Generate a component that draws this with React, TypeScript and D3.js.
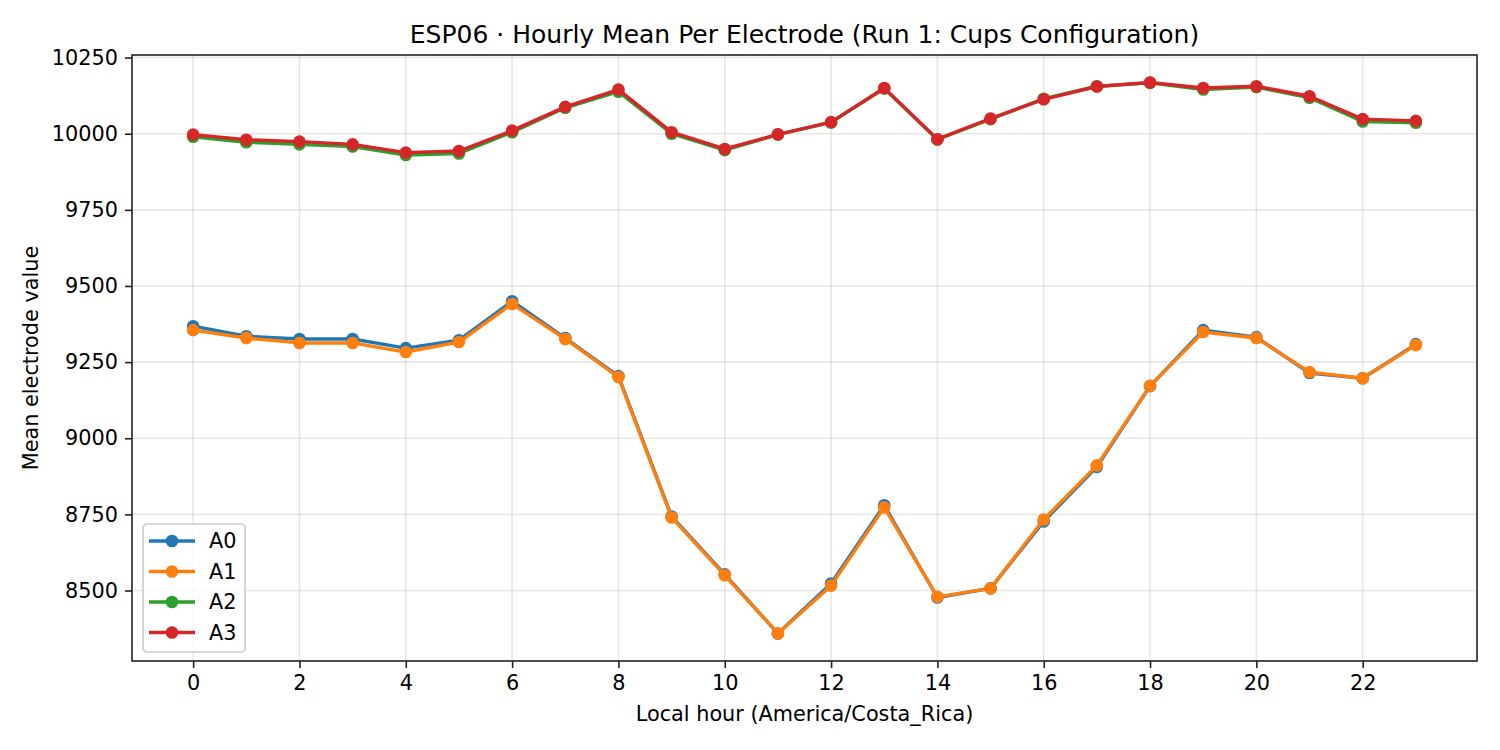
import React, { useEffect, useRef } from 'react';
import * as d3 from 'd3';

const W = 1500;
const H = 750;
const MARGIN = { top: 55, right: 23, bottom: 89, left: 132 };
const FONT = '"DejaVu Sans", sans-serif';
const FS = 20.8;

const HOURS = d3.range(0, 24);
const X_TICKS = [0, 2, 4, 6, 8, 10, 12, 14, 16, 18, 20, 22];
const Y_TICKS = [8500, 8750, 9000, 9250, 9500, 9750, 10000, 10250];

const A0 = [9368, 9335, 9326, 9326, 9296, 9322, 9450, 9329, 9204, 8743, 8553, 8359,
  8523, 8780, 8477, 8507, 8727, 8906, 9171, 9355, 9332, 9214, 9197, 9309];
const A1 = [9355, 9329, 9313, 9313, 9283, 9316, 9441, 9326, 9201, 8740, 8550, 8359,
  8516, 8773, 8479, 8507, 8733, 8911, 9172, 9349, 9329, 9217, 9197, 9306];
const A2 = [9990, 9972, 9965, 9958, 9930, 9935, 10005, 10085, 10138, 10000, 9946, 9997,
  10037, 10148, 9981, 10048, 10115, 10156, 10167, 10145, 10153, 10118, 10040, 10036];
const A3 = [9997, 9980, 9974, 9965, 9938, 9943, 10010, 10088, 10145, 10005, 9950, 9998,
  10038, 10150, 9982, 10050, 10113, 10155, 10168, 10150, 10156, 10123, 10048, 10042];

const SERIES = [
  { label: 'A0', color: '#1f77b4', values: A0 },
  { label: 'A1', color: '#ff7f0e', values: A1 },
  { label: 'A2', color: '#2ca02c', values: A2 },
  { label: 'A3', color: '#d62728', values: A3 },
];

const App: React.FC = () => {
  const svgRef = useRef<SVGSVGElement>(null);

  useEffect(() => {
    document.body.style.margin = '0';
    const svg = d3.select(svgRef.current);
    svg.selectAll('*').remove();

    const innerW = W - MARGIN.left - MARGIN.right;
    const innerH = H - MARGIN.top - MARGIN.bottom;

    // matplotlib-style 5% margins
    const allVals = SERIES.flatMap(s => s.values);
    const yMin = d3.min(allVals)!;
    const yMax = d3.max(allVals)!;
    const yPad = (yMax - yMin) * 0.05;
    const xPad = 23 * 0.05;

    const x = d3.scaleLinear().domain([-xPad, 23 + xPad]).range([0, innerW]);
    const y = d3.scaleLinear().domain([yMin - yPad, yMax + yPad]).range([innerH, 0]);

    svg.attr('width', W).attr('height', H).style('background', '#fff');
    const g = svg.append('g').attr('transform', `translate(${MARGIN.left},${MARGIN.top})`);

    // Grid
    const grid = g.append('g');
    X_TICKS.forEach(t => {
      grid.append('line')
        .attr('x1', x(t)).attr('x2', x(t)).attr('y1', 0).attr('y2', innerH)
        .attr('stroke', '#b0b0b0').attr('stroke-opacity', 0.3).attr('stroke-width', 1.6);
    });
    Y_TICKS.forEach(t => {
      grid.append('line')
        .attr('x1', 0).attr('x2', innerW).attr('y1', y(t)).attr('y2', y(t))
        .attr('stroke', '#b0b0b0').attr('stroke-opacity', 0.3).attr('stroke-width', 1.6);
    });

    // Series
    const line = d3.line<number>().x((_, i) => x(HOURS[i])).y(v => y(v));
    SERIES.forEach(s => {
      const sg = g.append('g');
      sg.append('path')
        .datum(s.values)
        .attr('fill', 'none')
        .attr('stroke', s.color)
        .attr('stroke-width', 3.4)
        .attr('stroke-linejoin', 'round')
        .attr('d', line);
      sg.selectAll('circle')
        .data(s.values)
        .join('circle')
        .attr('cx', (_, i) => x(HOURS[i]))
        .attr('cy', v => y(v))
        .attr('r', 6.3)
        .attr('fill', s.color);
    });

    // Axes
    const xAxis = g.append('g')
      .attr('transform', `translate(0,${innerH})`)
      .call(d3.axisBottom(x).tickValues(X_TICKS).tickSize(7).tickPadding(7).tickFormat(d3.format('d')));
    const yAxis = g.append('g')
      .call(d3.axisLeft(y).tickValues(Y_TICKS).tickSize(7).tickPadding(7).tickFormat(d3.format('d')));
    [xAxis, yAxis].forEach(ax => {
      ax.select('.domain').remove();
      ax.selectAll('.tick line').attr('stroke', '#222').attr('stroke-width', 1.6);
      ax.selectAll('text').attr('fill', '#000').attr('font-size', FS).attr('font-family', FONT);
    });

    // Spines
    g.append('rect').attr('width', innerW).attr('height', innerH)
      .attr('fill', 'none').attr('stroke', '#222').attr('stroke-width', 1.6);

    // Legend
    const lg = g.append('g').attr('transform', `translate(11,${y(yMin - yPad) - 137})`);
    lg.append('rect')
      .attr('width', 102).attr('height', 128).attr('rx', 4)
      .attr('fill', '#fff').attr('fill-opacity', 0.8)
      .attr('stroke', '#cccccc').attr('stroke-width', 1.6);
    SERIES.forEach((s, i) => {
      const ry = 17 + i * 30.5;
      lg.append('line')
        .attr('x1', 6).attr('x2', 52).attr('y1', ry).attr('y2', ry)
        .attr('stroke', s.color).attr('stroke-width', 3.4);
      lg.append('circle').attr('cx', 29).attr('cy', ry).attr('r', 6.3).attr('fill', s.color);
      lg.append('text')
        .attr('x', 66).attr('y', ry).attr('dy', '0.36em')
        .attr('font-size', FS).attr('font-family', FONT).attr('fill', '#000')
        .text(s.label);
    });

    // Title and labels
    svg.append('text')
      .attr('x', MARGIN.left + innerW / 2).attr('y', 43)
      .attr('text-anchor', 'middle').attr('font-size', 25).attr('font-family', FONT)
      .text('ESP06 · Hourly Mean Per Electrode (Run 1: Cups Configuration)');
    svg.append('text')
      .attr('x', MARGIN.left + innerW / 2).attr('y', 721)
      .attr('text-anchor', 'middle').attr('font-size', FS).attr('font-family', FONT)
      .text('Local hour (America/Costa_Rica)');
    svg.append('text')
      .attr('transform', `translate(38,${MARGIN.top + innerH / 2}) rotate(-90)`)
      .attr('text-anchor', 'middle').attr('font-size', FS).attr('font-family', FONT)
      .text('Mean electrode value');
  }, []);

  return <svg ref={svgRef} style={{ display: 'block' }} />;
};

export default App;
